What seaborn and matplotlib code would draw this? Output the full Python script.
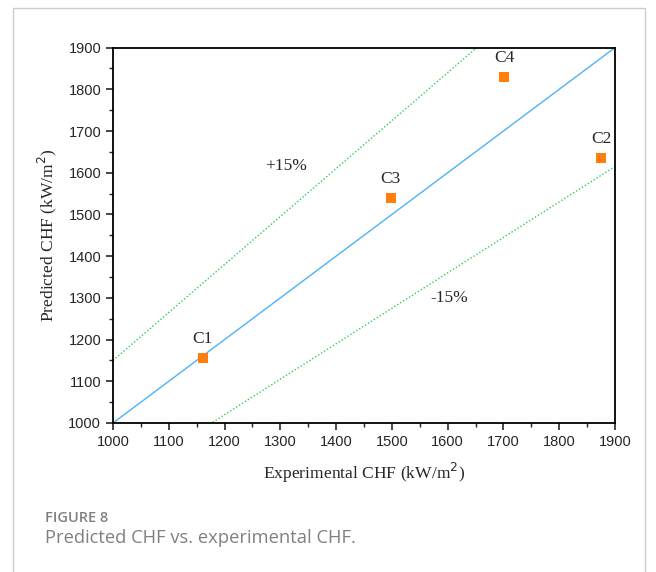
import matplotlib.pyplot as plt
import numpy as np
import pandas as pd
import seaborn as sns
from matplotlib.patches import Rectangle
from matplotlib.ticker import MultipleLocator

# measured cases
cases = ["C1", "C2", "C3", "C4"]
experimental = [1161, 1875, 1498, 1701]
predicted = [1156, 1636, 1540, 1830]

# reference lines: y = k * x
ref_x = [1000, 1900]
ref_factors = [1.0, 1.15, 0.85]

sns.set_style("white")
plt.rcParams["font.family"] = ["Liberation Sans", "DejaVu Sans"]

fig = plt.figure(figsize=(6.56, 5.72), dpi=100)
ax = fig.add_axes([113 / 656, 1 - 423 / 572, 502 / 656, 375.4 / 572])

df = pd.DataFrame({"case": cases, "exp": experimental, "pred": predicted})

for k in ref_factors:
    line = pd.DataFrame({"x": ref_x, "y": [k * v for v in ref_x]})
    if k == 1.0:
        sns.lineplot(data=line, x="x", y="y", ax=ax, color="#4db3f5", lw=1.0)
    else:
        sns.lineplot(data=line, x="x", y="y", ax=ax, color="#2ecc55",
                     lw=1.0, linestyle=(0, (1, 1.5)))

sns.scatterplot(data=df, x="exp", y="pred", ax=ax, marker="s", s=50,
                color="#ff7f0e", edgecolor="none", zorder=5)

serif = ["Liberation Serif", "DejaVu Serif"]
for _, row in df.iterrows():
    ax.text(row["exp"], row["pred"] + 36, row["case"], ha="center",
            va="baseline", fontsize=12.5, family=serif)

ax.text(1310, 1616, "+15%", ha="center", va="center", fontsize=12.5, family=serif)
ax.text(1602, 1300, "-15%", ha="center", va="center", fontsize=12.5, family=serif)

ax.set_xlim(1000, 1900)
ax.set_ylim(1000, 1900)
ax.xaxis.set_major_locator(MultipleLocator(100))
ax.yaxis.set_major_locator(MultipleLocator(100))
ax.xaxis.set_minor_locator(MultipleLocator(50))
ax.yaxis.set_minor_locator(MultipleLocator(50))
ax.tick_params(which="major", direction="out", length=5, width=1.2,
               labelsize=10.5, bottom=True, left=True, top=False, right=False)
ax.tick_params(which="minor", direction="out", length=3, width=1.0,
               bottom=True, left=True, top=False, right=False)
for s in ax.spines.values():
    s.set_color("black")
    s.set_linewidth(1.3)

ax.set_xlabel("Experimental CHF (kW/m$^2$)", family=serif, fontsize=12.6,
              labelpad=9)
ax.set_ylabel("Predicted CHF (kW/m$^2$)", family=serif, fontsize=12.6,
              labelpad=7)

# outer frame and caption
fig.patches.append(Rectangle((13 / 656, -0.1), (645 - 13) / 656, 1.1 - 8 / 572,
                             transform=fig.transFigure, fill=False,
                             edgecolor="#cccccc", lw=1.0))
fig.text(45 / 656, 1 - 518 / 572, "FIGURE 8", fontsize=10.5, color="#808080",
         family=["Open Sans", "DejaVu Sans"], weight="semibold", va="center")
fig.text(45 / 656, 1 - 538 / 572, "Predicted CHF vs. experimental CHF.",
         fontsize=13.2, color="#808080", family=["Open Sans", "DejaVu Sans"],
         va="center")

fig.savefig("out.png", dpi=100)
